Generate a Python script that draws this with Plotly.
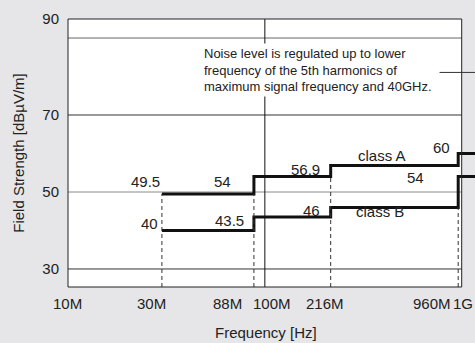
import numpy as np
import plotly.graph_objects as go

# ---------------- data ----------------
freq_edges = [30e6, 88e6, 216e6, 960e6, 40e9]          # segment start frequencies (last = 40 GHz end)
class_a = [49.5, 54, 56.9, 60]                         # dBuV/m
class_b = [40, 43.5, 46, 54]                           # dBuV/m
x_tick_vals = [10e6, 30e6, 88e6, 100e6, 216e6, 960e6, 1e9]
x_tick_text = ["10M", "30M", "88M", "100M", "216M", "960M", "1G"]
y_grid_vals = [30, 50, 70, 90]
y_tick_text = ["30", "50", "70", "90"]
note_lines = ["Noise level is regulated up to lower",
              "frequency of the 5th harmonics of",
              "maximum signal frequency and 40GHz."]

# ---------------- styling ----------------
FONT = "Liberation Sans, Arial, sans-serif"
TXT = "#222222"
BG = "#e6e6e8"
X_RANGE = [7.0, 9.0676]          # log10
Y_RANGE = [25.32, 94.94]
PLOT_W = 475 - 68
frame_x1 = (np.log10(1e9) - X_RANGE[0]) / (X_RANGE[1] - X_RANGE[0])

fig = go.Figure()

# step lines
fig.add_trace(go.Scatter(x=freq_edges, y=class_a + [class_a[-1]], mode="lines",
                         line=dict(shape="hv", color="#111111", width=3),
                         hoverinfo="skip", showlegend=False))
fig.add_trace(go.Scatter(x=freq_edges, y=class_b + [class_b[-1]], mode="lines",
                         line=dict(shape="hv", color="#111111", width=3),
                         hoverinfo="skip", showlegend=False))

# dashed drop lines at band edges
tops = [class_a[0], class_a[0], class_a[1], class_b[2]]
dx, dy = [], []
for f, t in zip(freq_edges[:4], tops):
    dx += [f, f, None]
    dy += [Y_RANGE[0], t, None]
fig.add_trace(go.Scatter(x=dx, y=dy, mode="lines",
                         line=dict(color="#333333", width=1, dash="4px,3px"),
                         hoverinfo="skip", showlegend=False))

# 100 MHz vertical reference line
fig.add_trace(go.Scatter(x=[100e6, 100e6], y=Y_RANGE, mode="lines",
                         line=dict(color="#111111", width=1),
                         hoverinfo="skip", showlegend=False))

shapes = [dict(type="rect", xref="paper", yref="paper", x0=0, x1=frame_x1, y0=0, y1=1,
               fillcolor="white", line=dict(width=0), layer="below")]
grid_colors = {30: "#333333", 50: "#8a8a8a", 70: "#333333", 90: "#666666"}
for v in y_grid_vals:
    shapes.append(dict(type="line", xref="paper", yref="y", x0=0, x1=frame_x1, y0=v, y1=v,
                       line=dict(color=grid_colors[v], width=1), layer="below"))
shapes.append(dict(type="rect", xref="paper", yref="paper", x0=0, x1=frame_x1, y0=0, y1=1,
                   line=dict(color="#222222", width=1), fillcolor="rgba(0,0,0,0)", layer="above"))
# leader line from the note towards the right (paper refs so it is not clipped)
NOTE_Y = 81.06
note_yp = (NOTE_Y - Y_RANGE[0]) / (Y_RANGE[1] - Y_RANGE[0])
shapes.append(dict(type="line", xref="paper", yref="paper", x0=(439 - 68) / PLOT_W, x1=1.0,
                   y0=note_yp, y1=note_yp, line=dict(color="#333333", width=1), layer="above"))

ann = []
# x tick labels
x_shifts = [-1, -10, -26, 7, -6, -26, 1]
for v, t, s in zip(x_tick_vals, x_tick_text, x_shifts):
    ann.append(dict(x=np.log10(v), y=0, xref="x", yref="paper", text=t, showarrow=False,
                    xanchor="center", yanchor="middle", xshift=s, yshift=-16,
                    font=dict(family=FONT, size=15, color=TXT)))

# value labels: (x edge index, series, idx, xshift, yshift, xanchor)
lab = [
    (0, class_a, 0, 0, 12, "right"),
    (1, class_a, 1, -21, -5, "right"),
    (2, class_a, 2, -9, -4, "right"),
    (3, class_a, 3, -6, 6, "right"),
    (0, class_b, 0, -2, 7, "right"),
    (1, class_b, 1, -8, -3, "right"),
    (2, class_b, 2, -9, -3, "right"),
    (3, class_b, 3, -32, -1, "right"),
]
for ei, ser, i, xs, ys, xa in lab:
    ann.append(dict(x=np.log10(freq_edges[ei]), y=ser[i], xref="x", yref="y",
                    text=f"{ser[i]:g}", showarrow=False, xanchor=xa, yanchor="middle",
                    xshift=xs, yshift=ys, font=dict(family=FONT, size=15, color=TXT)))
ann.append(dict(x=np.log10(freq_edges[3]), y=class_a[2], xref="x", yref="y", text="class A",
                showarrow=False, xanchor="right", yanchor="middle", xshift=-50, yshift=10,
                font=dict(family=FONT, size=15, color=TXT)))
ann.append(dict(x=np.log10(freq_edges[2]), y=class_b[2], xref="x", yref="y", text="class B",
                showarrow=False, xanchor="left", yanchor="middle", xshift=23, yshift=-4,
                font=dict(family=FONT, size=15, color=TXT)))

# note (white box interrupts the 100M line)
ann.append(dict(x=(202 - 68) / PLOT_W, y=NOTE_Y, xref="paper", yref="y",
                text="<br>".join(note_lines), showarrow=False, yshift=2,
                xanchor="left", yanchor="middle", align="left", bgcolor="white",
                width=234, height=50, borderpad=1,
                font=dict(family=FONT, size=13, color=TXT)))

# x axis title
ann.append(dict(x=0.5, y=0, xref="paper", yref="paper", text="Frequency [Hz]",
                showarrow=False, xanchor="center", yanchor="middle",
                xshift=-5.5, yshift=-45, font=dict(family=FONT, size=15, color=TXT)))

fig.update_layout(
    width=475, height=343,
    margin=dict(l=68, r=0, t=19, b=56),
    paper_bgcolor=BG, plot_bgcolor=BG,
    shapes=shapes, annotations=ann, showlegend=False,
    xaxis=dict(type="log", range=X_RANGE, showgrid=False, zeroline=False,
               showticklabels=False, ticks="", showline=False, fixedrange=True),
    yaxis=dict(range=Y_RANGE, showgrid=False, zeroline=False, showline=False,
               tickmode="array", tickvals=[30, 50, 70, Y_RANGE[1]], ticktext=y_tick_text,
               ticks="", ticklabelstandoff=8, automargin=False,
               title=dict(text="Field Strength [dBµV/m]", standoff=14,
                          font=dict(family=FONT, size=15, color=TXT)),
               tickfont=dict(family=FONT, size=15, color=TXT), fixedrange=True),
)

fig.write_html("out.html", config={"displayModeBar": False},
               post_script="document.body.style.margin='0';document.body.style.overflow='hidden';")
